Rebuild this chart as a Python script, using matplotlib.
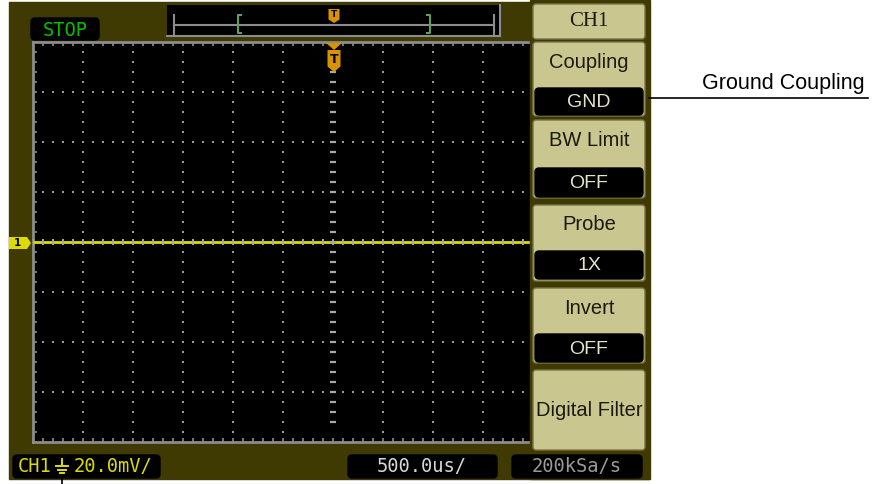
import numpy as np
import matplotlib
matplotlib.use("Agg")
import matplotlib.pyplot as plt
from matplotlib.patches import Rectangle, FancyBboxPatch, Polygon

# canal 1 en acoplamiento GND -> traza plana
trace_t_us = [-3000.0, 3000.0]
trace_mv = [0.0, 0.0]
time_per_div_us = 500.0
volts_per_div_mv = 20.0

menu_title = "CH1"
menu_labels = ["Coupling", "BW Limit", "Probe", "Invert", "Digital Filter"]
menu_values = ["GND", "OFF", "1X", "OFF", None]
status_text = "STOP"
scale_ch = "CH1"
scale_val = "20.0mV/"
timebase_text = "500.0us/"
sample_text = "200kSa/s"
callout_text = "Ground Coupling"

OLIVE = "#3e3a02"
KHAKI = "#c9c78f"
EDGE = "#77744a"
GRAY = "#9a9a9a"
YELLOW = "#dcdc00"
ORANGE = "#d99200"

W, H = 879, 484
fig = plt.figure(figsize=(W / 100, H / 100), dpi=100)
fig.patch.set_facecolor("white")


def px_axes(zorder):
    a = fig.add_axes([0, 0, 1, 1], zorder=zorder)
    a.set_xlim(0, W)
    a.set_ylim(H, 0)
    a.axis("off")
    a.patch.set_alpha(0)
    return a


bg = px_axes(0)
bg.add_patch(Rectangle((9, 2), 640, 477, color=OLIVE))

# graticula (12 div x 8 div), la parte derecha queda bajo el menu
g_left, g_top, g_w, g_h = 33, 42, 600, 400
ax = fig.add_axes([g_left / W, (H - g_top - g_h) / H, g_w / W, g_h / H], zorder=1)
ax.set_facecolor("black")
n_hdiv, n_vdiv = 12, 8
xmax = time_per_div_us * n_hdiv / 2
ymax = volts_per_div_mv * n_vdiv / 2
ax.set_xlim(-xmax, xmax)
ax.set_ylim(-ymax, ymax)
for s in ax.spines.values():
    s.set_color("#8c8c8c")
    s.set_linewidth(2)
ax.set_xticks(np.arange(-xmax, xmax + 1, time_per_div_us / 5))
ax.set_yticks(np.arange(-ymax, ymax + 1, volts_per_div_mv / 5))
ax.tick_params(direction="in", length=3, width=1.2, color="#8c8c8c",
               top=True, right=True, labelbottom=False, labelleft=False)

# puntos de la reticula
xs_div = np.arange(-xmax + time_per_div_us, xmax, time_per_div_us)
ys_div = np.arange(-ymax + volts_per_div_mv, ymax, volts_per_div_mv)
ys_fine = np.arange(-ymax, ymax + 1, volts_per_div_mv / 5)
xs_fine = np.arange(-xmax, xmax + 1, time_per_div_us / 5)
for x in xs_div:
    if x == 0:
        continue
    ax.scatter(np.full(len(ys_fine), x), ys_fine, s=2.5, marker="s", color=GRAY, lw=0, zorder=2)
for y in ys_div:
    if y == 0:
        continue
    ax.scatter(xs_fine, np.full(len(xs_fine), y), s=2.5, marker="s", color=GRAY, lw=0, zorder=2)

# traza
ax.plot(trace_t_us, trace_mv, color=YELLOW, lw=2, zorder=3)

# ejes centrales con marcas
ax.scatter(xs_fine, np.zeros(len(xs_fine)), s=22, marker="|", color="#a8a8a8", lw=1.4, zorder=4)
ax.scatter(np.zeros(len(ys_fine[2:-1])), ys_fine[2:-1], s=22, marker="_", color="#a8a8a8", lw=1.6, zorder=4)

# capa superior en pixeles
ov = px_axes(2)

# zona del menu tapa la graticula
ov.add_patch(Rectangle((530, 0), 120, 479, color=OLIVE, zorder=1))


def box(x0, y0, x1, y1, fc, ec=None, r=3, z=2):
    ov.add_patch(FancyBboxPatch((x0, y0), x1 - x0, y1 - y0,
                                boxstyle=f"round,pad=0,rounding_size={r}",
                                fc=fc, ec=ec if ec else fc, lw=1, zorder=z))


# boton titulo
box(533, 4, 645, 39, KHAKI, EDGE)
ov.text(589, 21, menu_title, ha="center", va="center", fontsize=15,
        family="Liberation Serif", color="#1a1a10", zorder=5)

btn_tops = [42, 120, 205, 288, 370]
btn_bots = [116, 198, 281, 363, 450]
val_boxes = [(88, 115), (168, 197), (251, 279), (334, 362)]
for i, lab in enumerate(menu_labels):
    box(533, btn_tops[i], 645, btn_bots[i], KHAKI, EDGE)
    if menu_values[i] is None:
        ov.text(589, (btn_tops[i] + btn_bots[i]) / 2, lab, ha="center", va="center",
                fontsize=14.5, family="Liberation Sans", color="#1a1a10", zorder=5)
    else:
        ov.text(589, btn_tops[i] + 20, lab, ha="center", va="center",
                fontsize=14.5, family="Liberation Sans", color="#1a1a10", zorder=5)
        vy0, vy1 = val_boxes[i]
        box(535, vy0, 643, vy1, "black", r=4, z=3)
        ov.text(589, (vy0 + vy1) / 2 + 1, menu_values[i], ha="center", va="center",
                fontsize=14, family="Liberation Sans", color="#e4e4c8", zorder=5)

# STOP
box(31, 18, 99, 40, "black", r=4)
ov.text(65, 30, status_text, ha="center", va="center", fontsize=13.5,
        family="DejaVu Sans Mono", color="#00c000", zorder=5)

# barra de memoria
ov.add_patch(Rectangle((167, 5), 333, 32, fc="black", ec="none", zorder=2))
ov.plot([167, 500], [36, 36], color="#8c8c8c", lw=1.5, zorder=3)
ov.plot([500, 500], [5, 36], color="#8c8c8c", lw=1.5, zorder=3)
ov.plot([174, 494], [25, 25], color="#8c8c8c", lw=1.5, zorder=3)
ov.plot([174, 174], [15, 34], color="#8c8c8c", lw=1.5, zorder=3)
ov.plot([494, 494], [15, 34], color="#8c8c8c", lw=1.5, zorder=3)
ov.plot([241, 238, 238, 241], [15, 15, 33, 33], color="#5fa060", lw=1.5, zorder=4)
ov.plot([427, 430, 430, 427], [15, 15, 33, 33], color="#5fa060", lw=1.5, zorder=4)


def trig_marker(cx, y0, w, h, fs):
    pts = [(cx - w / 2, y0), (cx + w / 2, y0), (cx + w / 2, y0 + h * 0.75),
           (cx, y0 + h), (cx - w / 2, y0 + h * 0.75)]
    ov.add_patch(Polygon(pts, closed=True, fc=ORANGE, ec="none", zorder=5))
    ov.text(cx, y0 + h * 0.42, "T", ha="center", va="center", fontsize=fs,
            family="DejaVu Sans", weight="bold", color="black", zorder=6)


trig_marker(334, 9, 11, 14, 6.5)
ov.add_patch(Polygon([(326, 43), (342, 43), (334, 50)], closed=True, fc=ORANGE, ec="none", zorder=5))
trig_marker(334, 50, 13, 22, 9)

# marcador canal 1
ov.add_patch(Polygon([(9, 237), (27, 237), (31, 243), (27, 249), (9, 249)],
                     closed=True, fc=YELLOW, ec="none", zorder=5))
ov.text(17, 243, "1", ha="center", va="center", fontsize=7.5, weight="bold",
        family="DejaVu Sans", color="black", zorder=6)

# barra inferior
box(13, 455, 160, 478, "black", r=4)
ov.text(18, 467, scale_ch, ha="left", va="center", fontsize=13.5,
        family="DejaVu Sans Mono", color=YELLOW, zorder=5)
ov.text(74, 467, scale_val, ha="left", va="center", fontsize=13.5,
        family="DejaVu Sans Mono", color=YELLOW, zorder=5)
# simbolo de masa (ningun tipo instalado tiene U+23DA)
ov.plot([62, 62], [459, 466], color=YELLOW, lw=1.4, zorder=5)
ov.plot([56, 68], [466, 466], color=YELLOW, lw=1.4, zorder=5)
ov.plot([58, 66], [469.5, 469.5], color=YELLOW, lw=1.4, zorder=5)
ov.plot([60, 64], [473, 473], color=YELLOW, lw=1.4, zorder=5)

box(348, 455, 497, 478, "black", r=4)
ov.text(422, 467, timebase_text, ha="center", va="center", fontsize=13.5,
        family="DejaVu Sans Mono", color="#d8d8d8", zorder=5)
box(512, 455, 642, 478, "black", r=4)
ov.text(577, 467, sample_text, ha="center", va="center", fontsize=13.5,
        family="DejaVu Sans Mono", color="#9a9a9a", zorder=5)

# llamada
ov.plot([649, 868], [98, 98], color="black", lw=1.2, zorder=5)
ov.text(865, 84, callout_text, ha="right", va="center", fontsize=15.5,
        family="Liberation Sans", color="black", zorder=5)
ov.plot([62, 62], [478, 484], color="black", lw=1.2, zorder=5)

plt.savefig("out.png", dpi=100, facecolor="white")
